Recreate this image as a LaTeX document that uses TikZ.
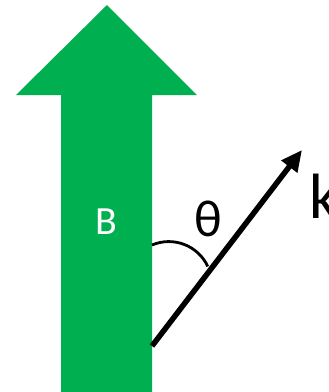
\documentclass[tikz,border=0pt]{standalone}
\usepackage{fontspec}
\setmainfont{Carlito}
\usetikzlibrary{arrows.meta}
\definecolor{ofgreen}{HTML}{00B050}
\begin{document}
\begin{tikzpicture}[x=1pt,y=-1pt,
  vecline/.style={line width=5.5pt,-{Triangle[length=21pt,width=19pt]}},
  lbl/.style={inner sep=0pt,anchor=center}]
\useasboundingbox (0,0) rectangle (329,392);
\fill[ofgreen] (61,392) -- (61,95) -- (16,95) -- (107,5) -- (197,95) -- (152,95) -- (152,392) -- cycle;
\node[lbl,text=white,font=\fontsize{40}{40}\selectfont] (B) at (106,222) {B};
\coordinate (o) at (152,346);
\coordinate (t) at (302,150);
\draw[vecline] (o) -- (t);
\draw[line width=2.8pt] (152,245) arc[start angle=-113,end angle=-25,radius=43];
\node[lbl,font=\fontsize{52}{52}\selectfont] (th) at (208,219) {θ};
\node[lbl,anchor=west,font=\fontsize{64}{64}\selectfont] (k) at (309,196) {k};
\end{tikzpicture}
\end{document}
